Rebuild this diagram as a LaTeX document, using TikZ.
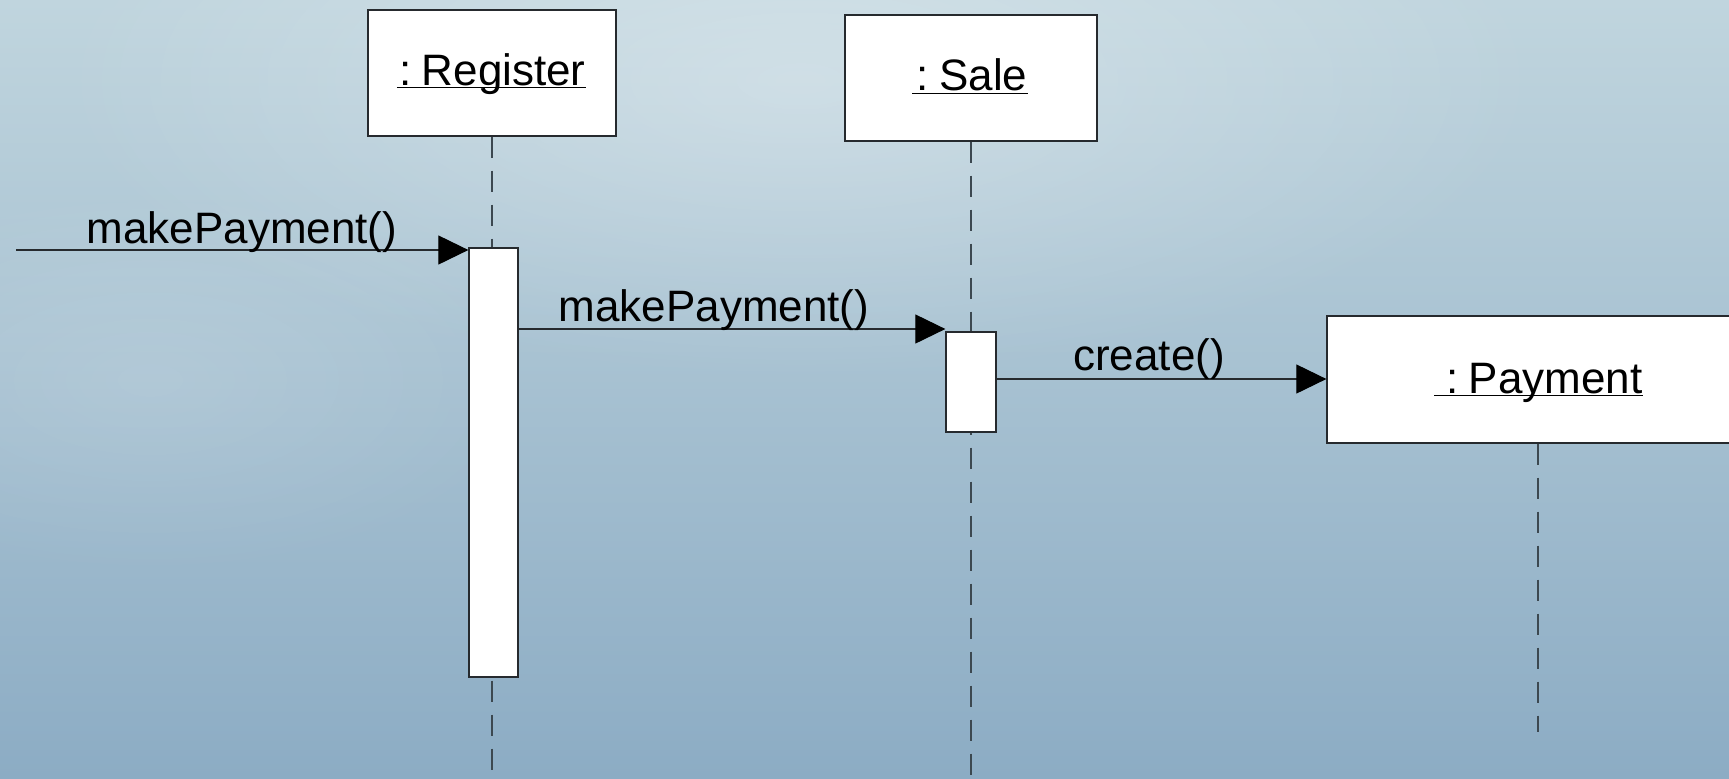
\documentclass[tikz,border=0pt]{standalone}
\usepackage{fontspec}
\setmainfont{Liberation Sans}
\usetikzlibrary{arrows.meta,fadings}
\tikzfading[name=softfade, inner color=transparent!0, outer color=transparent!100]
\definecolor{bgtop}{RGB}{192,213,222}
\definecolor{bgbot}{RGB}{140,172,196}
\definecolor{ln}{RGB}{38,42,46}
\definecolor{dashc}{RGB}{60,72,80}
\begin{document}
\begin{tikzpicture}[x=0.5pt,y=-0.5pt,
  headbox/.style={draw=ln, line width=0.65pt, fill=white, inner sep=0pt},
  actbox/.style={draw=ln, line width=0.65pt, fill=white, inner sep=0pt, minimum width=24.5pt},
  lbl/.style={font=\fontsize{22}{26}\selectfont, inner sep=0pt, anchor=base},
  msg/.style={draw=ln, line width=0.55pt, -{Triangle[length=15pt,width=14.5pt,color=black]}},
  lifeline/.style={draw=dashc, line width=0.65pt, dash pattern=on 10.5pt off 6.5pt},
  uline/.style={draw=black, line width=0.6pt}]
\useasboundingbox (0,0) rectangle (1729,778);
\clip (0,0) rectangle (1729,778);
% background
\shade[top color=bgtop, bottom color=bgbot] (0,0) rectangle (1729,778);
\fill[white, opacity=0.3, path fading=softfade] (800,80) ellipse (750 and 300);
\fill[white, opacity=0.12, path fading=softfade] (150,380) ellipse (400 and 200);
% coordinates
\coordinate (bot) at (0,778);
\coordinate (payend) at (0,732);
\coordinate (m1) at (16,250);
\coordinate (m2) at (0,329);
\coordinate (m3) at (0,379);
% heads
\node[headbox, minimum width=124pt, minimum height=63pt] (reg) at (492,73) {};
\node[headbox, minimum width=126pt, minimum height=63pt] (sale) at (971,78) {};
\node[headbox, minimum width=211pt, minimum height=63.5pt] (pay) at (1538,379.5) {};
% lifelines
\draw[lifeline] (reg.south) -- (reg.south |- bot);
\draw[lifeline] (sale.south) -- (sale.south |- bot);
\draw[lifeline] (pay.south) -- (pay.south |- payend);
% activations
\node[actbox, minimum height=214.5pt] (act1) at (493.5,462.5) {};
\node[actbox, minimum width=25pt, minimum height=50pt] (act2) at (971,382) {};
% head texts
\node[lbl] (regt) at (492.5,85) {:\kern-1pt\ Register};
\draw[uline] ([xshift=-1pt,yshift=-1.3pt]regt.base west) -- ([yshift=-1.3pt]regt.base east);
\node[lbl] (salet) at (972,90.5) {:\kern-1pt\ Sale};
\draw[uline] ([xshift=-2pt,yshift=-1.3pt]salet.base west) -- ([yshift=-1.3pt]salet.base east);
\node[lbl] (payt) at (1544.5,393) {:\kern-1pt\ Payment};
\draw[uline] ([xshift=-6pt,yshift=-1.3pt]payt.base west) -- ([yshift=-1.3pt]payt.base east);
% messages
\draw[msg] (m1) -- (m1 -| act1.west);
\node[lbl] (l1) at (242,243) {makePayment()};
\draw[msg] (act1.east |- m2) -- (act2.west |- m2);
\node[lbl] (l2) at (714,321) {makePayment()};
\draw[msg] (act2.east |- m3) -- (pay.west |- m3);
\node[lbl] (l3) at (1149,370) {create()};
\end{tikzpicture}
\end{document}
